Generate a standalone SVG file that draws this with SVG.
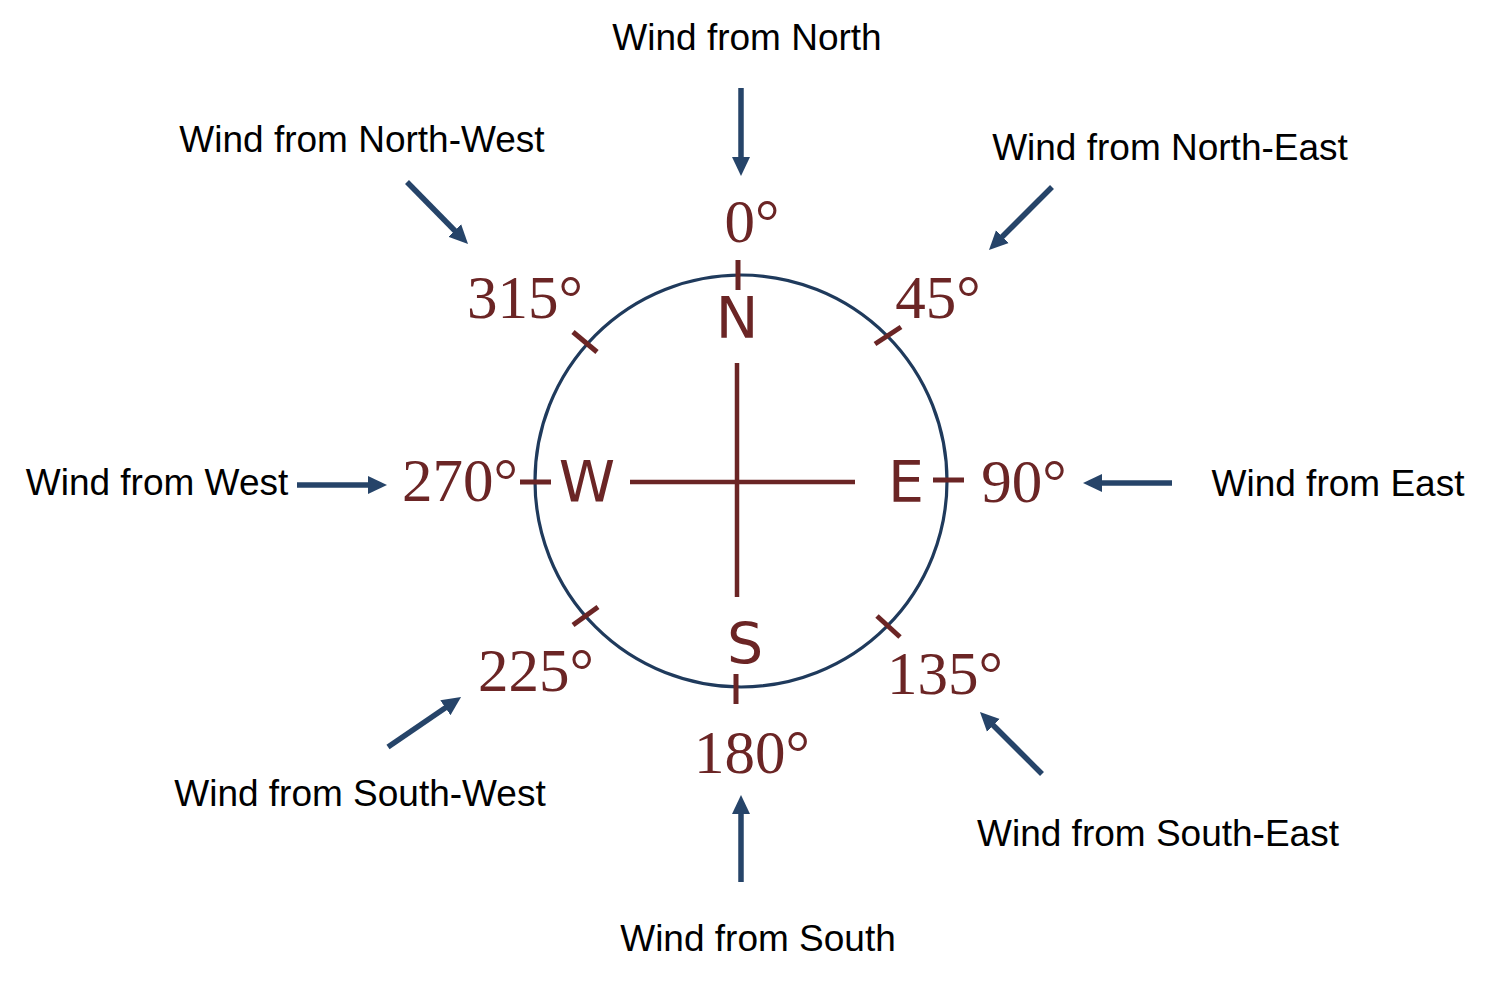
<svg xmlns="http://www.w3.org/2000/svg" width="1489" height="983" viewBox="0 0 1489 983">
<style>
.lbl{font-family:"Liberation Sans",Arial,sans-serif;font-size:37px;fill:#000;text-anchor:middle}
.deg{font-family:"Liberation Serif","DejaVu Serif",serif;font-size:61px;fill:#6b2525;text-anchor:middle}
.dir{font-family:"DejaVu Sans","Liberation Sans",sans-serif;font-size:57px;fill:#6b2525;text-anchor:middle}
.tick{stroke:#6b2525;stroke-width:5;fill:none}
.cross{stroke:#6b2525;stroke-width:4.5;fill:none}
.arr{stroke:#264469;stroke-width:5.5;fill:none;marker-end:url(#head)}
</style>
<defs>
<marker id="head" markerUnits="userSpaceOnUse" markerWidth="20" markerHeight="20" refX="1" refY="9" orient="auto" viewBox="0 0 20 18">
<path d="M0,0 L19,9 L0,18 z" fill="#264469"/>
</marker>
</defs>
<rect width="1489" height="983" fill="#fff"/>
<g id="compass">
<circle cx="741" cy="481" r="206" fill="none" stroke="#1f3a5c" stroke-width="3.2"/>
<line class="cross" x1="737" y1="363" x2="737" y2="597"/>
<line class="cross" x1="630" y1="482" x2="855" y2="482"/>
<line class="tick" x1="738" y1="260" x2="738" y2="290"/>
<line class="tick" x1="736" y1="674" x2="736" y2="704"/>
<line class="tick" x1="520" y1="482" x2="551" y2="482"/>
<line class="tick" x1="933" y1="480" x2="964" y2="480"/>
<line class="tick" x1="573" y1="332" x2="597" y2="352"/>
<line class="tick" x1="875" y1="344" x2="901" y2="327"/>
<line class="tick" x1="877" y1="616" x2="900" y2="637"/>
<line class="tick" x1="573" y1="625" x2="598" y2="607"/>
<text class="dir" x="737" y="338">N</text>
<text class="dir" x="587" y="502">W</text>
<text class="dir" x="906" y="502">E</text>
<text class="dir" x="745" y="664">S</text>
</g>
<g id="degrees">
<text class="deg" x="752" y="242">0°</text>
<text class="deg" x="525" y="318">315°</text>
<text class="deg" x="938" y="318">45°</text>
<text class="deg" x="460" y="501">270°</text>
<text class="deg" x="1024" y="502">90°</text>
<text class="deg" x="536" y="691">225°</text>
<text class="deg" x="945" y="694">135°</text>
<text class="deg" x="752" y="773">180°</text>
</g>
<g id="labels">
<text class="lbl" x="747" y="50">Wind from North</text>
<text class="lbl" x="362" y="152">Wind from North-West</text>
<text class="lbl" x="1170" y="160">Wind from North-East</text>
<text class="lbl" x="157" y="495">Wind from West</text>
<text class="lbl" x="1338" y="496">Wind from East</text>
<text class="lbl" x="360" y="806">Wind from South-West</text>
<text class="lbl" x="1158" y="846">Wind from South-East</text>
<text class="lbl" x="758" y="951">Wind from South</text>
</g>
<g id="connectors">
<line class="arr" x1="741" y1="88" x2="741" y2="158"/>
<line class="arr" x1="407" y1="182" x2="455.4" y2="231.2"/>
<line class="arr" x1="1052" y1="187" x2="1001.7" y2="237.3"/>
<line class="arr" x1="297" y1="485" x2="369" y2="485"/>
<line class="arr" x1="1172" y1="483" x2="1101" y2="483"/>
<line class="arr" x1="388" y1="747" x2="446.2" y2="707.2"/>
<line class="arr" x1="741" y1="882" x2="741" y2="813"/>
<line class="arr" x1="1042" y1="774" x2="992.7" y2="724.7"/>
</g>
</svg>
